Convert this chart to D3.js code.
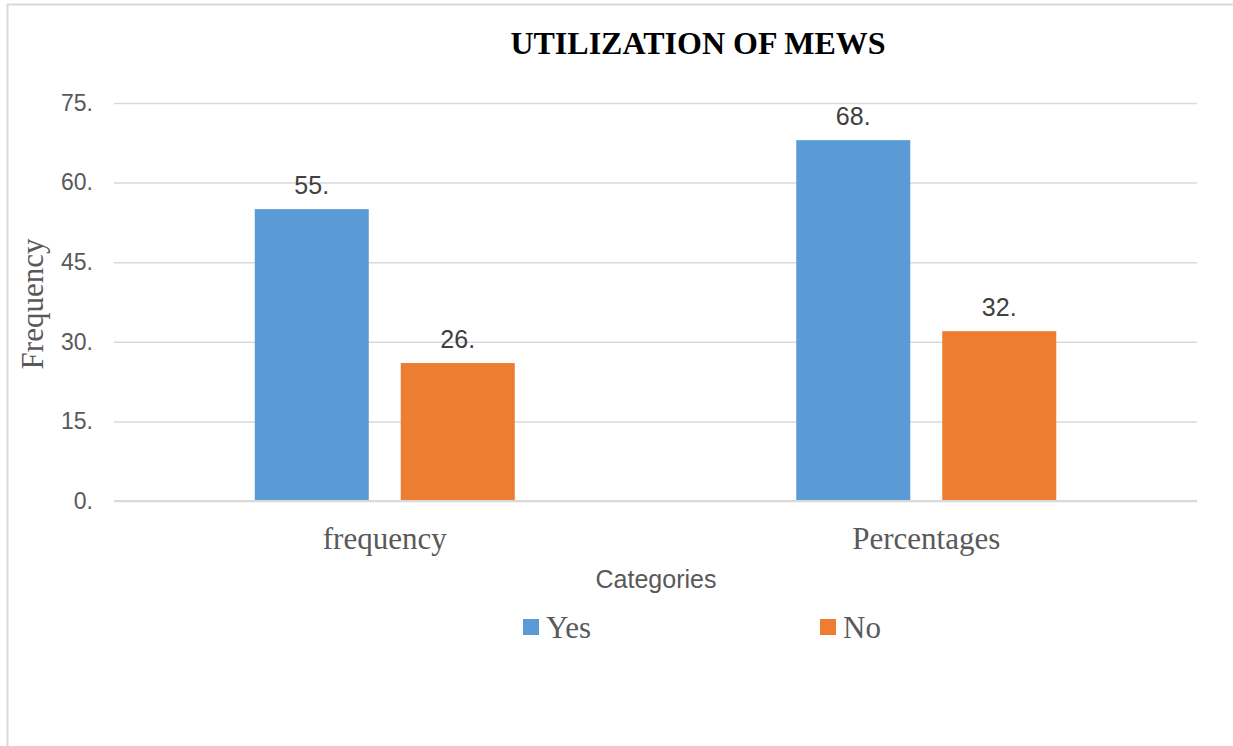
<!DOCTYPE html>
<html>
<head>
<meta charset="utf-8">
<script src="https://cdn.jsdelivr.net/npm/d3@7"></script>
<style>
    body { margin: 0; background: #fff; }
    svg { display: block; }
</style>
</head>
<body>
<svg id="chart"></svg>
<script>
const width = 1233;
const height = 746;

// data
const categories = ["frequency", "Percentages"];
const seriesNames = ["Yes", "No"];
const yesValues = [55, 68];
const noValues = [26, 32];
const yTicks = [0, 15, 30, 45, 60, 75];

const colors = { Yes: "#5B9BD5", No: "#ED7D31" };
const margin = { top: 103, right: 36, bottom: 245, left: 114 };

const rows = categories.map((c, i) => ({ category: c, Yes: yesValues[i], No: noValues[i] }));

const svg = d3.select("#chart").attr("width", width).attr("height", height);

// outer frame (only top and left edges visible in the crop)
svg.append("path")
    .attr("d", `M7.5,${height} V4.5 H${width}`)
    .attr("fill", "none")
    .attr("stroke", "#d9d9d9")
    .attr("stroke-width", 2);

const x0 = d3.scaleBand()
    .domain(categories)
    .range([margin.left, width - margin.right]);

const x1 = d3.scaleBand()
    .domain(seriesNames)
    .range([0, x0.bandwidth()])
    .paddingInner(0.219)
    .paddingOuter(0.964);

const y = d3.scaleLinear()
    .domain([0, 75])
    .range([height - margin.bottom, margin.top]);

// gridlines
const grid = svg.append("g")
    .attr("transform", `translate(${margin.left},0)`)
    .call(d3.axisLeft(y).tickValues(yTicks).tickSize(-(width - margin.left - margin.right)).tickFormat(""));
grid.select(".domain").remove();
grid.selectAll(".tick line").attr("stroke", "#d9d9d9").attr("stroke-width", 1.5);

// y tick labels
const yAxis = svg.append("g")
    .attr("transform", `translate(93,0)`)
    .call(d3.axisLeft(y).tickValues(yTicks).tickSize(0).tickPadding(0).tickFormat(d => d + "."));
yAxis.select(".domain").remove();
yAxis.selectAll("text")
    .attr("font-family", "Arial, 'Liberation Sans', sans-serif")
    .attr("font-size", 23)
    .attr("fill", "#595959");

// bars
const groups = svg.append("g")
    .selectAll("g")
    .data(rows)
    .join("g")
    .attr("transform", d => `translate(${x0(d.category)},0)`);

groups.selectAll("rect")
    .data(d => seriesNames.map(k => ({ key: k, value: d[k] })))
    .join("rect")
    .attr("x", d => x1(d.key))
    .attr("y", d => y(d.value))
    .attr("width", x1.bandwidth())
    .attr("height", d => y(0) - y(d.value))
    .attr("fill", d => colors[d.key]);

// data labels
groups.selectAll("text")
    .data(d => seriesNames.map(k => ({ key: k, value: d[k] })))
    .join("text")
    .attr("x", d => x1(d.key) + x1.bandwidth() / 2)
    .attr("y", d => y(d.value) - 15)
    .attr("text-anchor", "middle")
    .attr("font-family", "Arial, 'Liberation Sans', sans-serif")
    .attr("font-size", 25)
    .attr("fill", "#404040")
    .text(d => d.value + ".");

// zero line on top
svg.append("line")
    .attr("x1", margin.left)
    .attr("x2", width - margin.right)
    .attr("y1", y(0))
    .attr("y2", y(0))
    .attr("stroke", "#d9d9d9")
    .attr("stroke-width", 2);

// category labels
svg.append("g")
    .selectAll("text")
    .data(categories)
    .join("text")
    .attr("x", d => x0(d) + x0.bandwidth() / 2)
    .attr("y", 549)
    .attr("text-anchor", "middle")
    .attr("font-family", "'Times New Roman', 'Liberation Serif', serif")
    .attr("font-size", 31)
    .attr("fill", "#595959")
    .text(d => d);

// title
svg.append("text")
    .attr("x", 698)
    .attr("y", 54)
    .attr("text-anchor", "middle")
    .attr("font-family", "'Times New Roman', 'Liberation Serif', serif")
    .attr("font-weight", "bold")
    .attr("font-size", 32)
    .attr("fill", "#000")
    .text("UTILIZATION OF MEWS");

// axis titles
svg.append("text")
    .attr("transform", `translate(43,304) rotate(-90)`)
    .attr("text-anchor", "middle")
    .attr("font-family", "'Times New Roman', 'Liberation Serif', serif")
    .attr("font-size", 31)
    .attr("fill", "#595959")
    .text("Frequency");

svg.append("text")
    .attr("x", 656)
    .attr("y", 588)
    .attr("text-anchor", "middle")
    .attr("font-family", "Arial, 'Liberation Sans', sans-serif")
    .attr("font-size", 25)
    .attr("fill", "#595959")
    .text("Categories");

// legend
const legendX = [523, 820];
const legend = svg.append("g")
    .selectAll("g")
    .data(seriesNames)
    .join("g")
    .attr("transform", (d, i) => `translate(${legendX[i]},619)`);
legend.append("rect")
    .attr("width", 16)
    .attr("height", 16)
    .attr("fill", d => colors[d]);
legend.append("text")
    .attr("x", 23)
    .attr("y", 19)
    .attr("font-family", "'Times New Roman', 'Liberation Serif', serif")
    .attr("font-size", 31)
    .attr("fill", "#595959")
    .text(d => d);
</script>
</body>
</html>
